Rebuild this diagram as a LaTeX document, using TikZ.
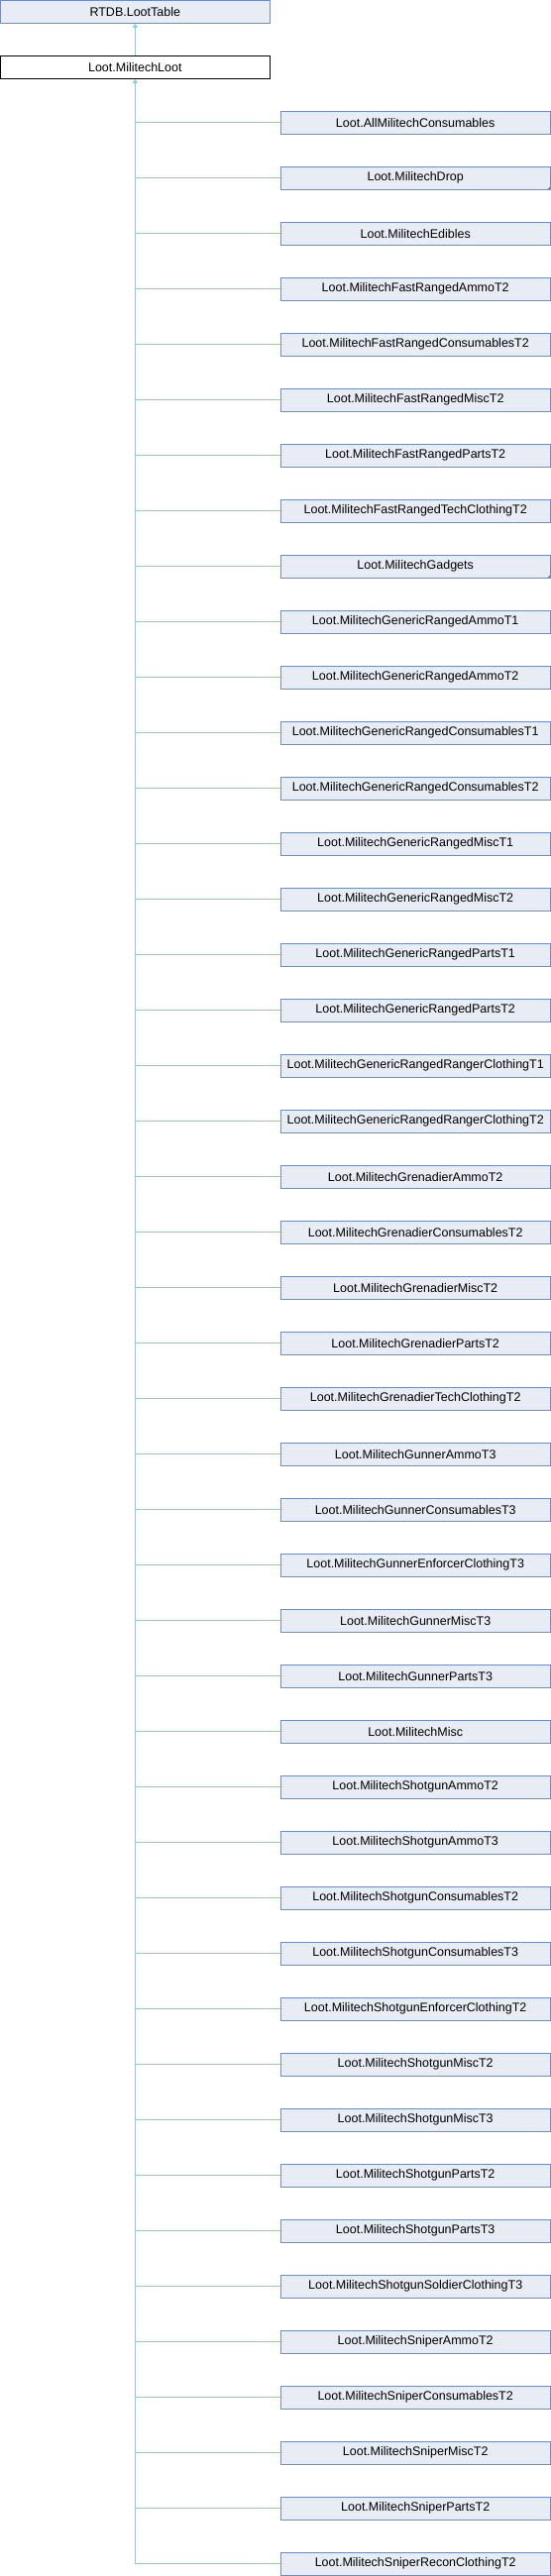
\documentclass[tikz,border=0pt]{standalone}
\usepackage{fontspec}
\setmainfont{Liberation Sans}
\usetikzlibrary{arrows.meta, positioning}
\definecolor{edgeblue}{RGB}{140,202,236}
\definecolor{boxline}{RGB}{110,140,200}
\definecolor{boxfill}{RGB}{232,236,245}
\tikzset{
  classbox/.style={draw=boxline, fill=boxfill, line width=1pt, minimum width=272pt,
    minimum height=23.3pt, inner sep=0pt, font=\fontsize{12.5}{15}\selectfont},
  mainbox/.style={classbox, draw=black, fill=white},
  edgeline/.style={edgeblue, line width=1pt},
  inherit/.style={edgeline, -{Triangle[width=5pt,length=4pt]}}
}

\begin{document}
\begin{tikzpicture}
    \useasboundingbox (0,0) rectangle (556pt,-2600pt);

    % Draw base classes
    \node[classbox] (lootTable) at (136.3pt,-11.7pt) {RTDB.LootTable};
    \node[mainbox] (militechLoot) at (136.3pt,-67.7pt) {Loot.MilitechLoot};
    \draw[inherit] (militechLoot) -- (lootTable);

    % Draw derived classes
    \foreach \name [count=\i from 0] in {AllMilitechConsumables, MilitechDrop, MilitechEdibles,
        MilitechFastRangedAmmoT2, MilitechFastRangedConsumablesT2, MilitechFastRangedMiscT2,
        MilitechFastRangedPartsT2, MilitechFastRangedTechClothingT2, MilitechGadgets,
        MilitechGenericRangedAmmoT1, MilitechGenericRangedAmmoT2, MilitechGenericRangedConsumablesT1,
        MilitechGenericRangedConsumablesT2, MilitechGenericRangedMiscT1, MilitechGenericRangedMiscT2,
        MilitechGenericRangedPartsT1, MilitechGenericRangedPartsT2, MilitechGenericRangedRangerClothingT1,
        MilitechGenericRangedRangerClothingT2, MilitechGrenadierAmmoT2, MilitechGrenadierConsumablesT2,
        MilitechGrenadierMiscT2, MilitechGrenadierPartsT2, MilitechGrenadierTechClothingT2,
        MilitechGunnerAmmoT3, MilitechGunnerConsumablesT3, MilitechGunnerEnforcerClothingT3,
        MilitechGunnerMiscT3, MilitechGunnerPartsT3, MilitechMisc, MilitechShotgunAmmoT2,
        MilitechShotgunAmmoT3, MilitechShotgunConsumablesT2, MilitechShotgunConsumablesT3,
        MilitechShotgunEnforcerClothingT2, MilitechShotgunMiscT2, MilitechShotgunMiscT3,
        MilitechShotgunPartsT2, MilitechShotgunPartsT3, MilitechShotgunSoldierClothingT3,
        MilitechSniperAmmoT2, MilitechSniperConsumablesT2, MilitechSniperMiscT2,
        MilitechSniperPartsT2, MilitechSniperReconClothingT2} {
      \node[classbox, minimum width=271.7pt] (child\i) at (419.2pt,{-123.7pt-\i*56pt}) {Loot.\name};
      \draw[edgeline] (child\i.west) -- (child\i.west -| militechLoot.south);
    }

    % Draw trunk up to the derived-from class
    \draw[inherit] (child44.west -| militechLoot.south) -- (militechLoot.south);

    % Optional: mark classes with hidden children
    \foreach \i in {1,8}
      \fill[boxline] (child\i.south east) -- ++(-4pt,0) -- ++(4pt,4pt) -- cycle;
\end{tikzpicture}
\end{document}
